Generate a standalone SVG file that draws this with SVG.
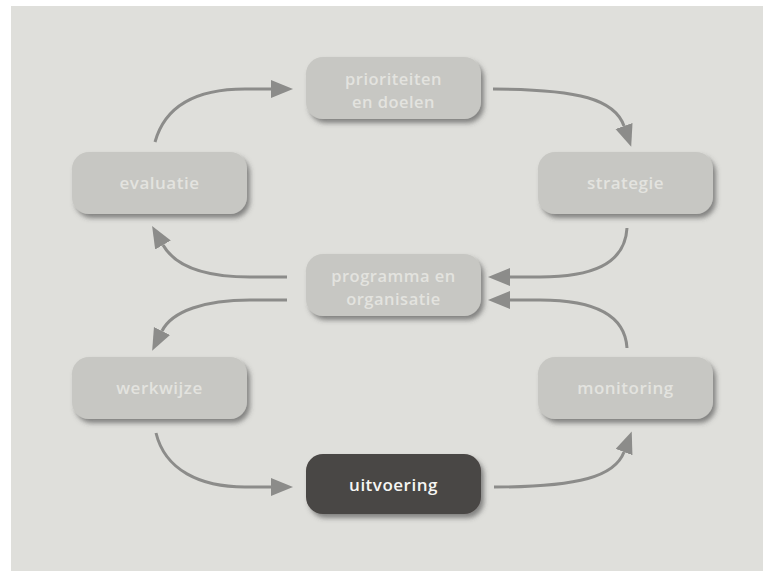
<svg xmlns="http://www.w3.org/2000/svg" width="763" height="571" viewBox="0 0 763 571">
  <style>
    .box { fill: #c7c7c3; filter: url(#sh); }
    .dark { fill: #4a4644; filter: url(#sh); }
    .lbl { font-family: "Open Sans", "DejaVu Sans", sans-serif; font-size: 17px; font-weight: 600; letter-spacing: 0.5px; fill: #e3e3df; text-anchor: middle; }
    .lbl2 { font-size: 16.5px; }
    .lbl.w { fill: #f6f6f4; }
    .arr { fill: none; stroke: #8c8c8a; stroke-width: 3; marker-end: url(#ah); }
  </style>
  <defs>
    <filter id="sh" x="-10%" y="-15%" width="125%" height="140%">
      <feDropShadow dx="3" dy="4" stdDeviation="2.5" flood-color="#444" flood-opacity="0.6"/>
    </filter>
    <marker id="ah" markerUnits="userSpaceOnUse" markerWidth="24" markerHeight="20" refX="0" refY="9" orient="auto">
      <path d="M0,0 L22,9 L0,18 z" fill="#8c8c8a"/>
    </marker>
  </defs>
  <rect x="0" y="0" width="763" height="571" fill="#ffffff"/>
  <rect x="11" y="6" width="752" height="565" fill="#dfdfdb"/>

  <g id="connectors">
    <path class="arr" d="M155,142 C165,106 195,89 245,89 L271,89"/>
    <path class="arr" d="M493,89 C580,89 615,100 624,126"/>
    <path class="arr" d="M627,228 C625,265 590,277 540,277 L510,277"/>
    <path class="arr" d="M287,277 L250,277 C205,277 175,266 163,245"/>
    <path class="arr" d="M287,300 L250,300 C205,300 172,311 162,331"/>
    <path class="arr" d="M627,348 C625,313 590,300 540,300 L510,300"/>
    <path class="arr" d="M156,433 C165,470 200,487 245,487 L271,487"/>
    <path class="arr" d="M494,487 C580,487 615,476 624,452"/>
  </g>

  <g id="prioriteiten">
    <rect class="box" x="306" y="57" width="175" height="62" rx="17"/>
    <text class="lbl lbl2" x="393.5" y="85">prioriteiten</text>
    <text class="lbl lbl2" x="393.5" y="108">en doelen</text>
  </g>
  <g id="evaluatie">
    <rect class="box" x="72" y="152" width="175" height="62" rx="17"/>
    <text class="lbl" x="159.5" y="189">evaluatie</text>
  </g>
  <g id="strategie">
    <rect class="box" x="538" y="152" width="175" height="62" rx="17"/>
    <text class="lbl" x="625.5" y="189">strategie</text>
  </g>
  <g id="programma">
    <rect class="box" x="306" y="254" width="175" height="62" rx="17"/>
    <text class="lbl lbl2" x="393.5" y="282">programma en</text>
    <text class="lbl lbl2" x="393.5" y="305">organisatie</text>
  </g>
  <g id="werkwijze">
    <rect class="box" x="72" y="357" width="175" height="62" rx="17"/>
    <text class="lbl" x="159.5" y="394">werkwijze</text>
  </g>
  <g id="monitoring">
    <rect class="box" x="538" y="357" width="175" height="62" rx="17"/>
    <text class="lbl" x="625.5" y="394">monitoring</text>
  </g>
  <g id="uitvoering">
    <rect class="dark" x="306" y="454" width="175" height="60" rx="17"/>
    <text class="lbl w" x="393.5" y="491">uitvoering</text>
  </g>
</svg>
